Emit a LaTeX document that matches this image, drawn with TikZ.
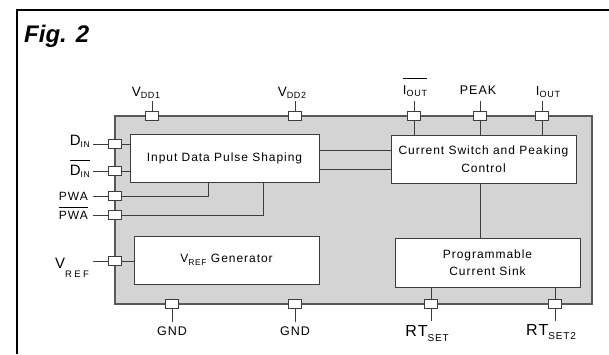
\documentclass[tikz,border=0pt]{standalone}
\usepackage{fontspec}
\setmainfont{Liberation Sans}[LetterSpace=8]
\newfontfamily\figfont{Liberation Sans}
\usetikzlibrary{positioning}
\definecolor{chipgray}{RGB}{212,212,212}
\definecolor{wiregray}{RGB}{60,60,60}
\newcommand{\sz}[1]{\fontsize{#1}{#1}\selectfont}
\newcommand{\lblsub}[3][9]{#2\raisebox{-2.5pt}{\sz{#1}#3}}

\begin{document}
\begin{tikzpicture}[x=1pt,y=-1pt,
    wire/.style={draw=wiregray,line width=0.9pt},
    block/.style={rectangle,draw=wiregray,fill=white,line width=1pt,inner sep=0pt,
                  align=center,font=\fontsize{12}{17.5}\selectfont}]
\useasboundingbox (0,0) rectangle (609,354);

% frame and title
\draw [line width=2pt] (17,354) -- (17,10) -- (610,10);
\node [font=\figfont\fontsize{24}{24}\selectfont\bfseries\itshape,anchor=base west,inner sep=0pt] (fig) at (24,42) {Fig. 2};

% chip body
\node [draw=black!65,fill=chipgray,line width=1.2pt,minimum width=477pt,minimum height=188pt,inner sep=0pt] (chip) at (353.5,210) {};

% function blocks
\node [block,minimum width=189pt,minimum height=48pt] (idps) at (224.5,158) {Input Data Pulse Shaping};
\node [block,minimum width=185pt,minimum height=48pt] (cspc) at (483.5,159) {Current Switch and Peaking\\Control};
\node [block,minimum width=185pt,minimum height=48pt] (vgen) at (226.5,260) {\lblsub[8.5]{V}{REF}\ Generator};
\node [block,minimum width=185pt,minimum height=49pt] (pcs) at (487.5,262.5) {Programmable\\Current Sink};

% wire ends outside the chip
\coordinate (vdd1e) at (152,101);
\coordinate (vdd2e) at (295,101);
\coordinate (ioutbe) at (414,101);
\coordinate (peake) at (480,101);
\coordinate (ioute) at (542,101);
\coordinate (dine) at (93,144);
\coordinate (dinbe) at (93,171);
\coordinate (pwae) at (93,196);
\coordinate (pwabe) at (93,215);
\coordinate (vrefe) at (93,261);
\coordinate (gndae) at (172,322);
\coordinate (gndbe) at (295,322);
\coordinate (rtsete) at (431,321);
\coordinate (rtset2e) at (555,321);

% pins
\begin{scope}[every node/.style={rectangle,draw=wiregray,fill=white,line width=0.8pt,minimum width=13pt,minimum height=9pt,inner sep=0pt}]
    \node (vdd1) at (152,116) {};
    \node (vdd2) at (295,116) {};
    \node (ioutb) at (414,116) {};
    \node (peak) at (480,116) {};
    \node (iout) at (542,116) {};

    \node (din) at (115,144) {};
    \node (dinb) at (115,171) {};
    \node (pwa) at (115,196) {};
    \node (pwab) at (115,215) {};
    \node (vref) at (115,261) {};

    \node (gnda) at (172,304) {};
    \node (gndb) at (295,304) {};
    \node (rtset) at (431,304) {};
    \node (rtset2) at (555,304) {};
\end{scope}

% wiring
\begin{scope}[every path/.style={wire}]
    \draw (vdd1) -- (vdd1e);
    \draw (vdd2) -- (vdd2e);
    \draw (ioutbe) -- (ioutb) -- (ioutb |- cspc.north);
    \draw (peake) -- (peak) -- (peak |- cspc.north);
    \draw (ioute) -- (iout) -- (iout |- cspc.north);

    \draw (dine) -- (din) -- (din -| idps.west);
    \draw (dinbe) -- (dinb) -- (dinb -| idps.west);
    \draw (pwae) -- (pwa) -| ([xshift=79pt]idps.south west);
    \draw (pwabe) -- (pwab) -| ([xshift=134pt]idps.south west);
    \draw (vrefe) -- (vref) -- (vref -| vgen.west);

    \draw ([yshift=8pt]idps.east) -- ([yshift=8pt]idps.east -| cspc.west);
    \draw ([yshift=-11pt]idps.east) -- ([yshift=-11pt]idps.east -| cspc.west);
    \draw (peak |- cspc.south) -- (peak |- pcs.north);

    \draw (gndae) -- (gnda);
    \draw (gndbe) -- (gndb);
    \draw (rtset2e) -- (rtset2) -- (rtset2 |- pcs.south);
    \draw (rtsete) -- (rtset) -- (rtset |- pcs.south);
\end{scope}

% pin names
\begin{scope}[every node/.style={inner sep=0pt,anchor=base}]
    \node [font=\sz{13.5}] (vdd1l) at (146,96) {\lblsub{V}{DD1}};
    \node [font=\sz{13.5}] (vdd2l) at (292,96) {\lblsub{V}{DD2}};
    \node [font=\sz{13}] (ioutbl) at (415,94) {$\overline{\mbox{\lblsub{I}{OUT}\rule{0pt}{14pt}}}$};
    \node [font=\sz{12.5}] (peakl) at (478,94) {PEAK};
    \node [font=\sz{13}] (ioutl) at (548,95) {\lblsub{I}{OUT}};

    \node [font=\sz{15},anchor=base east] (dinl) at (90,145) {\lblsub[8.5]{D}{IN}};
    \node [font=\sz{15},anchor=base east] (dinbl) at (90,175) {$\overline{\mbox{\lblsub[8.5]{D}{IN}\rule{0pt}{13pt}}}$};
    \node [font=\sz{12},anchor=base east] (pwal) at (88,200) {PWA};
    \node [font=\sz{12},anchor=base east] (pwabl) at (88,219) {$\overline{\mbox{PWA\rule{0pt}{10.5pt}}}$};
    \node [font=\sz{15},anchor=base west] (vrefl) at (55,268) {V\raisebox{-9pt}{\sz{9.5}\addfontfeature{LetterSpace=25}REF}};

    \node [font=\sz{12.5}] (gndal) at (172,335) {GND};
    \node [font=\sz{12.5}] (gndbl) at (295,335) {GND};
    \node [font=\sz{16}] (rtsetl) at (427,336.5) {RT\raisebox{-5pt}{\sz{10}SET}};
    \node [font=\sz{16}] (rtset2l) at (551,335) {RT\raisebox{-4pt}{\sz{10}SET2}};
\end{scope}
\end{tikzpicture}
\end{document}
